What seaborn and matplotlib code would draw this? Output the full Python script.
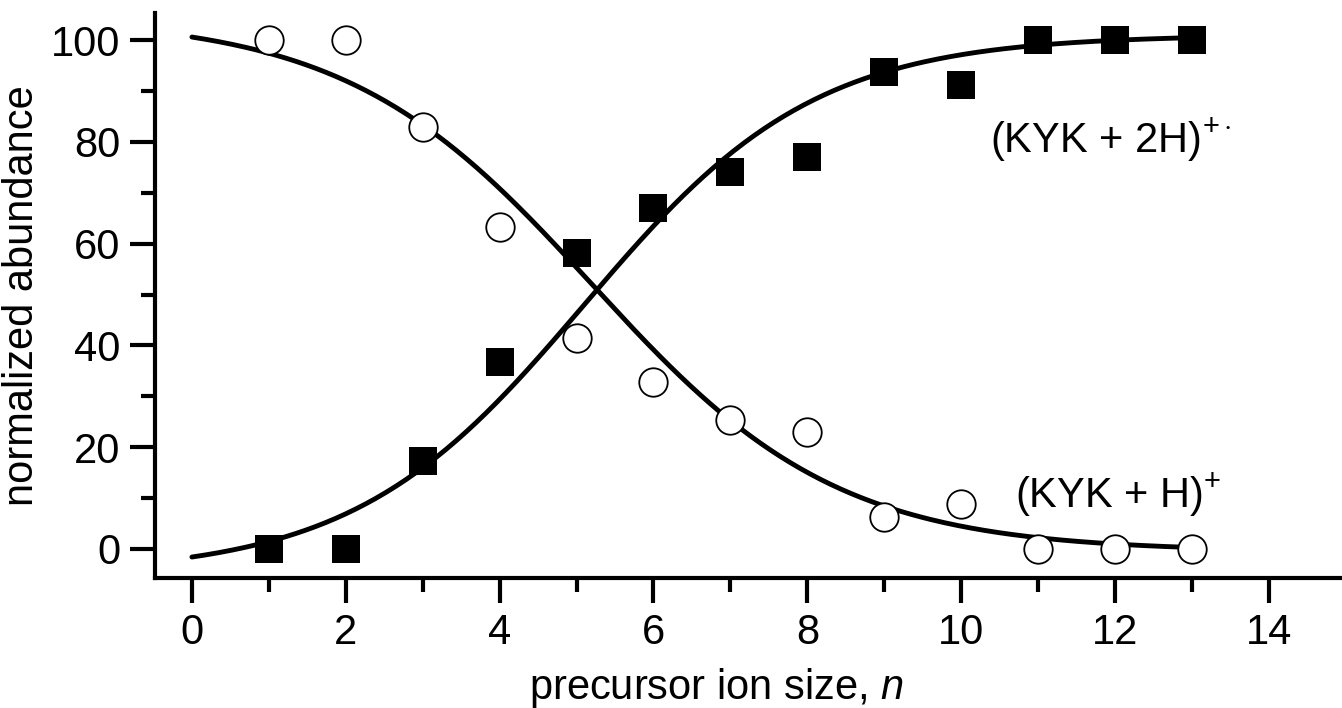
import numpy as np
import pandas as pd
import matplotlib.pyplot as plt
import seaborn as sns

# measured points
n_size = [1, 2, 3, 4, 5, 6, 7, 8, 9, 10, 11, 12, 13]
kyk_h = [100, 100, 83, 63.3, 41.5, 32.8, 25.3, 23, 6.3, 8.8, 0, 0, 0]
kyk_2h = [0, 0, 17.3, 36.7, 58.2, 67, 74, 77, 93.7, 91.2, 100, 100, 100]

# Boltzmann fit parameters: (low, high, centre, width)
fit_h = (-0.5, 104.5, 5.2, 1.6)
fit_2h = (-5.0, 101.0, 5.1, 1.5)


def boltzmann(x, low, high, x0, dx, rising):
    s = (x - x0) / dx
    if rising:
        return low + (high - low) / (1 + np.exp(-s))
    return low + (high - low) / (1 + np.exp(s))


sns.set_style("ticks")
plt.rcParams["font.family"] = ["Liberation Sans", "DejaVu Sans"]
plt.rcParams["mathtext.fontset"] = "custom"
plt.rcParams["mathtext.rm"] = "Liberation Sans"
plt.rcParams["mathtext.it"] = "Liberation Sans:italic"
for key in ["text.color", "axes.labelcolor", "xtick.color", "ytick.color", "axes.edgecolor"]:
    plt.rcParams[key] = "black"

df = pd.DataFrame({"n": n_size, "h": kyk_h, "h2": kyk_2h})
xs = np.linspace(0, 13, 300)
df_fit = pd.DataFrame({
    "x": xs,
    "h": boltzmann(xs, *fit_h, rising=False),
    "h2": boltzmann(xs, *fit_2h, rising=True),
})

fig = plt.figure(figsize=(13.42, 7.08), dpi=100)
ax = fig.add_axes([0.1155, 0.1836, 0.8845, 0.798])

sns.lineplot(data=df_fit, x="x", y="h", color="black", lw=3.5, ax=ax)
sns.lineplot(data=df_fit, x="x", y="h2", color="black", lw=3.5, ax=ax)
sns.scatterplot(data=df, x="n", y="h", marker="o", s=420, facecolor="white",
                edgecolor="black", linewidth=1.3, ax=ax, zorder=3)
sns.scatterplot(data=df, x="n", y="h2", marker="s", s=430, color="black",
                edgecolor="black", linewidth=0, ax=ax, zorder=3)

ax.set_xlim(-0.48, 14.95)
ax.set_ylim(-5.7, 105.3)
ax.set_xticks(range(0, 15, 2))
ax.set_xticks(range(1, 15, 2), minor=True)
ax.set_yticks(range(0, 101, 20))
ax.set_yticks(range(10, 101, 20), minor=True)
ax.tick_params(which="major", length=18, width=3, labelsize=30, pad=7)
ax.tick_params(which="minor", length=10, width=3)
for side in ["top", "right"]:
    ax.spines[side].set_visible(False)
for side in ["left", "bottom"]:
    ax.spines[side].set_linewidth(3)

ax.set_xlabel("precursor ion size, $\\mathit{n}$", fontsize=30)
ax.xaxis.set_label_coords(0.473, -0.155)
ax.set_ylabel("normalized abundance", fontsize=30)
ax.yaxis.set_label_coords(-0.095, 0.5)

ax.text(10.37, 80.3, "(KYK + 2H)$^{+\\cdot}$", fontsize=30, va="center")
ax.text(10.7, 10.6, "(KYK + H)$^{+}$", fontsize=30, va="center")

fig.savefig("out.png", dpi=100)
